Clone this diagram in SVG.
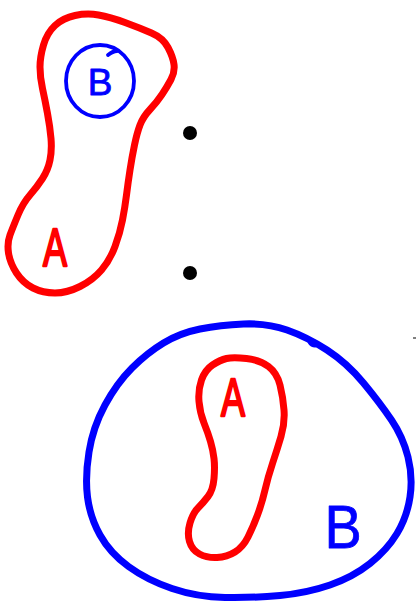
<svg xmlns="http://www.w3.org/2000/svg" width="417" height="605" viewBox="0 0 417 605">
<style>
.red{fill:none;stroke:#ff0000;stroke-width:7;stroke-linejoin:round;stroke-linecap:round}
.blue{fill:none;stroke:#0000ff;stroke-linejoin:round;stroke-linecap:round}
.lbl{font-family:"Liberation Sans",Arial,sans-serif;text-anchor:middle;stroke-linejoin:round}
.lr{fill:#ff0000;stroke:#ff0000;stroke-width:1.6}
.lb{fill:#0000ff;stroke:#0000ff;stroke-width:0.8}
</style>
<rect width="417" height="605" fill="#ffffff"/>
<g id="setA-top">
<path class="red" d="M98.5,15 Q110,17 125,22.5 Q140,28 151.5,33 Q163,38 168,47.5 Q173,57 174,64.5 Q175,72 171,79.5 Q167,87 162,94.5 Q157,102 150,109.5 Q143,117 140,125 Q137,133 134.5,145 Q132,157 130,170 Q128,183 126.5,195 Q125,207 122.5,220 Q120,233 115,246.5 Q110,260 101.5,270 Q93,280 80,286.5 Q67,293 55,293 Q43,293 33,288 Q23,283 16.5,273 Q10,263 8.5,253 Q7,243 10,235 Q13,227 18,215 Q23,203 30,195 Q37,187 42.5,178.5 Q48,170 50,160 Q52,150 51,138.5 Q50,127 47.5,113.5 Q45,100 42.5,88.5 Q40,77 40,67 Q40,57 43.5,45 Q47,33 55,25.5 Q63,18 75,15.5 Q87,13 98.5,15 Z"/>
<text class="lbl lr" font-size="36" transform="translate(55,266) scale(1,1.5)">A</text>
</g>
<g id="setB-top">
<ellipse class="blue" stroke-width="3.8" cx="100" cy="81" rx="34" ry="36"/>
<path class="blue" stroke-width="3.8" d="M108,55 Q113,51 117,51"/>
<text class="lbl lb" font-size="37" x="100" y="95">B</text>
</g>
<g id="dots">
<circle cx="190" cy="133" r="7" fill="#000"/>
<circle cx="190" cy="273" r="7" fill="#000"/>
<line x1="413" y1="338" x2="416" y2="338" stroke="#000" stroke-width="1"/>
</g>
<g id="setB-bottom">
<path class="blue" stroke-width="7" d="M243.5,324 Q267,323 287,330 Q307,337 327,350 Q347,363 363.5,383 Q380,403 391.5,420 Q403,437 408,457 Q413,477 410,497 Q407,517 397,533.5 Q387,550 370,563.5 Q353,577 330,585 Q307,593 280,595.5 Q253,598 225,597.5 Q197,597 172,588.5 Q147,580 128.5,566.5 Q110,553 100,535 Q90,517 87.5,497 Q85,477 89,452 Q93,427 105,405 Q117,383 132,368 Q147,353 163.5,343 Q180,333 200,329 Q220,325 243.5,324 Z"/>
<ellipse cx="313" cy="343" rx="6" ry="4" transform="rotate(30 313 343)" fill="#0000ff"/>
<text class="lbl lb" font-size="62" transform="translate(343,548) scale(0.9,1)">B</text>
</g>
<g id="setA-bottom">
<path class="red" d="M246.5,358.5 Q260,360 268.5,366.5 Q277,373 280,385 Q283,397 284,410 Q285,423 281,436.5 Q277,450 272.5,463.5 Q268,477 265,490 Q262,503 257.5,515 Q253,527 248,537 Q243,547 235,552 Q227,557 217,557.5 Q207,558 199.5,554 Q192,550 189.5,541.5 Q187,533 190,523 Q193,513 198,508 Q203,503 208,496.5 Q213,490 214,478.5 Q215,467 214,458.5 Q213,450 210.5,441.5 Q208,433 204,423 Q200,413 199,401.5 Q198,390 201.5,380 Q205,370 212.5,365 Q220,360 226.5,358.5 Q233,357 246.5,358.5 Z"/>
<text class="lbl lr" font-size="36" transform="translate(233,416) scale(1,1.5)">A</text>
</g>
<g id="connectors"></g>
</svg>
